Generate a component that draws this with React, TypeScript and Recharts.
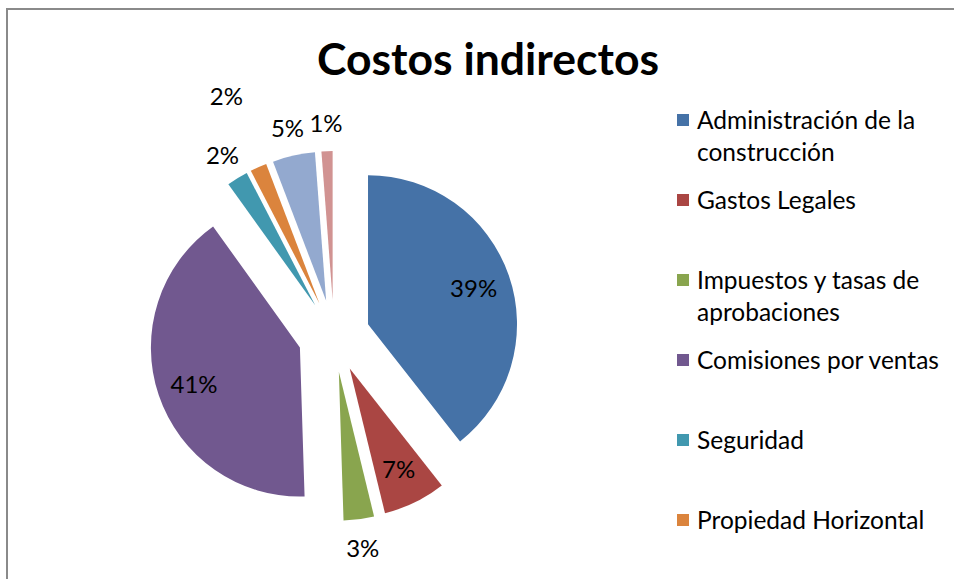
import React from 'react';
import { PieChart, Pie, Cell, Legend, Sector } from 'recharts';

// Costos indirectos (%); last two legend entries are cut off in the source
const categories = [
  'Administración de la construcción',
  'Gastos Legales',
  'Impuestos y tasas de aprobaciones',
  'Comisiones por ventas',
  'Seguridad',
  'Propiedad Horizontal',
  'Publicidad',
  'Otros',
];
const values = [39.4, 6.8, 3.3, 40.6, 2.3, 1.8, 4.6, 1.2];
const colors = ['#4572A7', '#AA4643', '#89A54E', '#71588F', '#4198AF', '#DB843D', '#93A9CF', '#D19392'];

const data = categories.map((name, i) => ({ name, value: values[i] }));
const total = values.reduce((a, b) => a + b, 0);

const FONT = 'Lato, "Open Sans", sans-serif';
const EXPLODE = 36;

const ExplodedSector = (props: any) => {
  const { cx, cy, midAngle } = props;
  const rad = (midAngle * Math.PI) / 180;
  return (
    <Sector
      {...props}
      cx={cx + EXPLODE * Math.cos(rad)}
      cy={cy - EXPLODE * Math.sin(rad)}
      stroke="none"
    />
  );
};

const renderLabel = (props: any) => {
  const { cx, cy, midAngle, outerRadius, percent, index } = props;
  const inside = percent > 0.06;
  let r = inside ? EXPLODE + outerRadius * 0.75 : EXPLODE + outerRadius * 1.19;
  if (!inside && index > 0) {
    // push an outside label further out when it would sit on its neighbour
    const prev = values[index - 1] / total;
    const gap = ((prev + percent) / 2) * 360;
    if (prev <= 0.06 && gap < 9) r += 50;
  }
  const rad = (midAngle * Math.PI) / 180;
  return (
    <text
      x={cx + r * Math.cos(rad)}
      y={cy - r * Math.sin(rad)}
      textAnchor="middle"
      dominantBaseline="central"
      fontSize={24}
      fontFamily={FONT}
      fill="#000"
    >
      {`${Math.round(percent * 100)}%`}
    </text>
  );
};

const LegendContent = ({ payload }: any) => {
  // keep the data order (the legend sorts by name otherwise)
  const items = [...(payload || [])].sort(
    (a: any, b: any) => categories.indexOf(a.value) - categories.indexOf(b.value)
  );
  return (
    <div style={{ fontFamily: FONT, fontSize: 24.5, color: '#000' }}>
      {items.map((e: any, i: number) => (
        <div key={i} style={{ display: 'flex', alignItems: 'flex-start', height: 80 }}>
          <span
            style={{ width: 12, height: 12, background: e.color, marginTop: 10, marginRight: 8, flex: 'none' }}
          />
          <span style={{ width: 252, lineHeight: '32px' }}>{e.value}</span>
        </div>
      ))}
    </div>
  );
};

export default function App() {
  return (
    <div style={{ position: 'fixed', left: 0, top: 0, width: 954, height: 579, overflow: 'hidden', background: '#fff' }}>
      <div
        style={{
          position: 'absolute',
          left: 6,
          top: 8,
          width: 1000,
          height: 700,
          borderLeft: '2px solid #8a8a8a',
          borderTop: '2px solid #8a8a8a',
        }}
      />
      <div
        style={{
          position: 'absolute',
          left: 0,
          top: 31,
          width: 976,
          textAlign: 'center',
          fontFamily: FONT,
          fontWeight: 700,
          fontSize: 44.5,
          color: '#000',
        }}
      >
        Costos indirectos
      </div>
      <div style={{ position: 'absolute', left: 0, top: 0 }}>
        <PieChart width={954} height={579} margin={{ top: 0, right: 0, bottom: 0, left: 0 }}>
          <Pie
            data={data}
            dataKey="value"
            nameKey="name"
            cx={334}
            cy={336}
            outerRadius={149}
            startAngle={90}
            endAngle={-270}
            shape={ExplodedSector}
            label={renderLabel}
            labelLine={false}
            isAnimationActive={false}
          >
            {data.map((d, i) => (
              <Cell key={d.name} fill={colors[i]} />
            ))}
          </Pie>
          <Legend
            layout="vertical"
            verticalAlign="top"
            align="right"
            wrapperStyle={{ left: 677, top: 104, width: 277 }}
            content={<LegendContent />}
          />
        </PieChart>
      </div>
    </div>
  );
}
